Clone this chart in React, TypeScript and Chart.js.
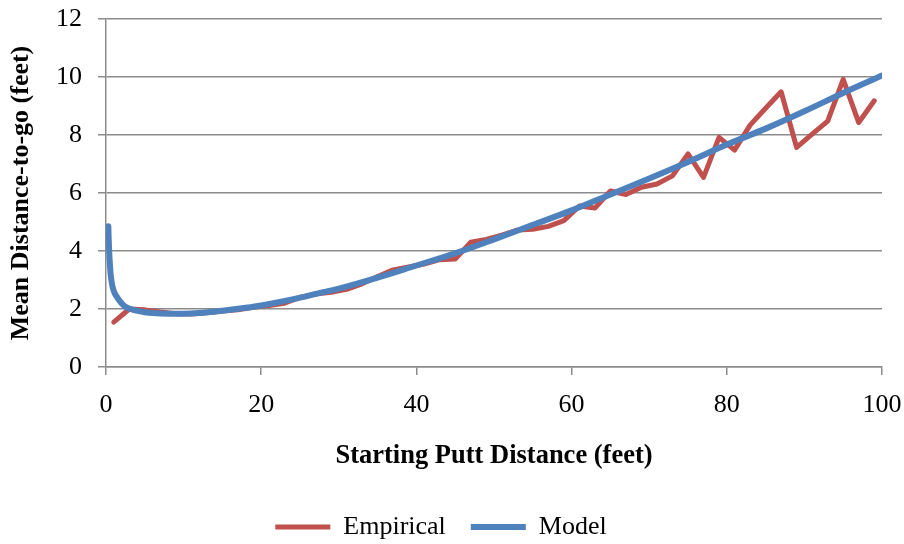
import { useEffect, useRef } from "react";
import { Chart, registerables } from "chart.js";

Chart.register(...registerables);

// Starting putt distance (feet) for the empirical means
const empiricalX = [
  1, 3, 5, 7, 9, 11, 13, 15, 17, 19, 21, 23, 25, 27, 29, 31, 33, 35, 37, 39,
  41, 43, 45, 47, 49, 51, 53, 55, 57, 59, 61, 63, 65, 67, 69, 71, 73, 75, 77, 79,
  81, 83, 85, 87, 89, 91, 93, 95, 97, 99,
];
// Empirical mean distance-to-go (feet)
const empiricalY = [
  1.55, 2.0, 1.97, 1.9, 1.84, 1.83, 1.87, 1.93, 1.97, 2.06, 2.12, 2.2, 2.4, 2.52, 2.58, 2.68, 2.87, 3.12, 3.35, 3.45,
  3.55, 3.7, 3.72, 4.3, 4.4, 4.55, 4.72, 4.75, 4.85, 5.05, 5.55, 5.48, 6.07, 5.95, 6.2, 6.31, 6.59, 7.35, 6.54, 7.92,
  7.48, 8.34, 8.92, 9.49, 7.57, 8.03, 8.48, 9.92, 8.43, 9.18,
];

// Model curve samples
const modelX = [
  0.3, 0.35, 0.4, 0.5, 0.6, 0.75, 1, 1.4, 2, 2.5, 3.5, 5, 6, 8, 10, 12, 15, 18, 20, 24, 28, 30,
  35, 40, 45, 50, 55, 60, 65, 70, 75, 80, 85, 90, 95, 100,
];
const modelY = [
  4.85, 4.4, 4.05, 3.55, 3.2, 2.9, 2.62, 2.42, 2.2, 2.08, 1.97, 1.89, 1.86, 1.84, 1.84, 1.86, 1.94, 2.04, 2.12, 2.33, 2.58, 2.7,
  3.08, 3.5, 3.92, 4.4, 4.9, 5.4, 5.95, 6.5, 7.07, 7.67, 8.22, 8.82, 9.45, 10.05,
];

const xTicks = [0, 20, 40, 60, 80, 100];
const yTicks = [0, 2, 4, 6, 8, 10, 12];

const FONT = "'Liberation Serif', 'Times New Roman', Times, serif";
const GRID = "#8c8c8c";

export default function App() {
  const ref = useRef<HTMLCanvasElement>(null);

  useEffect(() => {
    if (!ref.current) return;
    const chart = new Chart(ref.current, {
      type: "scatter",
      data: {
        datasets: [
          {
            label: "Empirical",
            data: empiricalX.map((x, i) => ({ x, y: empiricalY[i] })),
            showLine: true,
            borderColor: "#C0504D",
            backgroundColor: "#C0504D",
            borderWidth: 5,
            borderCapStyle: "round",
            borderJoinStyle: "round",
            pointRadius: 0,
            pointHoverRadius: 0,
            pointStyle: "line",
            order: 1,
          },
          {
            label: "Model",
            data: modelX.map((x, i) => ({ x, y: modelY[i] })),
            showLine: true,
            borderColor: "#4F81BD",
            backgroundColor: "#4F81BD",
            borderWidth: 6,
            borderCapStyle: "round",
            borderJoinStyle: "round",
            cubicInterpolationMode: "monotone",
            pointRadius: 0,
            pointHoverRadius: 0,
            pointStyle: "line",
            order: 0,
          },
        ],
      },
      options: {
        responsive: true,
        maintainAspectRatio: false,
        animation: false,
        events: [],
        layout: { padding: { top: 19, right: 22, left: 0, bottom: 0 } },
        plugins: {
          tooltip: { enabled: false },
          legend: {
            position: "bottom",
            labels: {
              usePointStyle: true,
              pointStyleWidth: 55,
              padding: 25,
              color: "#000",
              font: { family: FONT, size: 26 },
              sort: (a: any, b: any) => a.datasetIndex - b.datasetIndex,
            },
          },
        },
        scales: {
          x: {
            type: "linear",
            min: 0,
            max: 100,
            afterBuildTicks: (scale: any) => {
              scale.ticks = xTicks.map((v) => ({ value: v }));
            },
            afterFit: (scale: any) => {
              scale.height = 122;
              scale.paddingLeft = 0;
              scale.paddingRight = 0;
            },
            grid: {
              drawOnChartArea: false,
              drawTicks: true,
              tickLength: 8,
              color: GRID,
              lineWidth: 1.5,
            },
            border: { color: GRID, width: 1.5 },
            ticks: {
              color: "#000",
              font: { family: FONT, size: 26 },
              padding: 15,
              maxRotation: 0,
            },
            title: {
              display: true,
              text: "Starting Putt Distance (feet)",
              color: "#000",
              font: { family: FONT, size: 26.5, weight: "bold" },
              padding: { top: 0, bottom: 17 },
            },
          },
          y: {
            type: "linear",
            min: 0,
            max: 12,
            afterBuildTicks: (scale: any) => {
              scale.ticks = yTicks.map((v) => ({ value: v }));
            },
            afterFit: (scale: any) => {
              scale.width = 106;
              scale.paddingTop = 0;
              scale.paddingBottom = 0;
            },
            grid: {
              drawTicks: true,
              tickLength: 8,
              color: GRID,
              lineWidth: 1.5,
            },
            border: { color: GRID, width: 1.5 },
            ticks: {
              color: "#000",
              font: { family: FONT, size: 26 },
              padding: 16,
            },
            title: {
              display: true,
              text: "Mean Distance-to-go (feet)",
              color: "#000",
              font: { family: FONT, size: 26, weight: "bold" },
              padding: { top: 6, bottom: 0 },
            },
          },
        },
      },
    });
    return () => chart.destroy();
  }, []);

  return (
    <div style={{ position: "fixed", left: 0, top: 0, width: 904, height: 550 }}>
      <canvas ref={ref} />
    </div>
  );
}
